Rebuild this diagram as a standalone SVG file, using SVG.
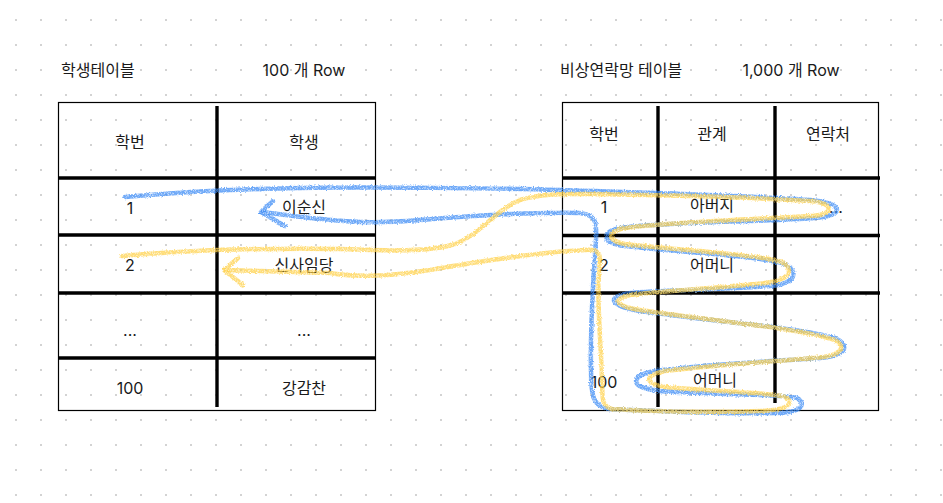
<svg xmlns="http://www.w3.org/2000/svg" width="943" height="503" viewBox="0 0 943 503">
<style>
text{font-family:Inter,"Noto Sans CJK KR","Noto Sans",sans-serif;font-size:16px;fill:#1a1a1a;dominant-baseline:central;text-anchor:middle}
text.l{text-anchor:start}
.frame{fill:none;stroke:#000;stroke-width:1.2}
.thick{stroke:#000;stroke-width:3.4;fill:none}
.blue{fill:none;stroke:#3d8cf5;stroke-width:4.5;stroke-linecap:round;stroke-linejoin:round;opacity:.75}
.yellow{fill:none;stroke:#ffd24d;stroke-width:4.5;stroke-linecap:round;stroke-linejoin:round;opacity:.75}
</style>
<defs>
<pattern id="dots" x="0" y="0" width="25" height="25" patternUnits="userSpaceOnUse">
<circle cx="16" cy="20" r="1" fill="#c4c4c4"/>
</pattern>
<filter id="crayon" x="-5%" y="-10%" width="110%" height="120%">
<feTurbulence type="fractalNoise" baseFrequency="0.9" numOctaves="2" seed="3" result="n"/>
<feDisplacementMap in="SourceGraphic" in2="n" scale="3" xChannelSelector="R" yChannelSelector="G" result="d"/>
<feTurbulence type="fractalNoise" baseFrequency="1.6" numOctaves="1" seed="7" result="g"/>
<feColorMatrix in="g" type="matrix" values="0 0 0 0 0  0 0 0 0 0  0 0 0 0 0  0 0 0 -2.2 2.0" result="ga"/>
<feComposite in="d" in2="ga" operator="in"/>
</filter>
</defs>
<rect width="943" height="503" fill="#fff"/>
<rect width="943" height="503" fill="url(#dots)"/>

<g id="titles">
<text class="l" x="61" y="70">학생테이블</text>
<text x="304" y="70">100 개 Row</text>
<text class="l" x="560" y="70">비상연락망 테이블</text>
<text x="791" y="70">1,000 개 Row</text>
</g>

<g id="student-table">
<rect class="frame" x="58.5" y="102.5" width="317" height="308"/>
<line class="thick" x1="217" y1="106" x2="217" y2="407"/>
<line class="thick" x1="58" y1="178" x2="376" y2="178"/>
<line class="thick" x1="58" y1="235" x2="376" y2="235"/>
<line class="thick" x1="58" y1="293" x2="376" y2="293"/>
<line class="thick" x1="58" y1="358" x2="376" y2="358"/>
<text x="130" y="142">학번</text>
<text x="304" y="142">학생</text>
<text x="130" y="208">1</text>
<text x="304" y="207">이순신</text>
<text x="130" y="265">2</text>
<text x="304" y="265">신사임당</text>
<text x="130" y="330">...</text>
<text x="304" y="330">...</text>
<text x="130" y="388">100</text>
<text x="304" y="388">강감찬</text>
</g>

<g id="contact-table">
<rect class="frame" x="562.5" y="102.5" width="316" height="308"/>
<line class="thick" x1="658" y1="106" x2="658" y2="407"/>
<line class="thick" x1="775" y1="106" x2="775" y2="403"/>
<line class="thick" x1="562" y1="178" x2="880" y2="178"/>
<line class="thick" x1="562" y1="235.5" x2="880" y2="235.5"/>
<line class="thick" x1="562" y1="293" x2="880" y2="293"/>
<text x="604" y="134">학번</text>
<text x="712" y="134">관계</text>
<text x="828" y="134">연락처</text>
<text x="604" y="207">1</text>
<text x="712" y="205">아버지</text>
<text x="836" y="207">...</text>
<text x="604" y="265">2</text>
<text x="712" y="265">어머니</text>
<text x="604" y="382">100</text>
<text x="715" y="380">어머니</text>
</g>

<g id="connectors" filter="url(#crayon)">
<path class="blue" d="M125,197 C180,192 230,189 300,188 S500,188 560,190 S760,196 810,200 C845,203 845,216 815,218 C760,222 660,222 620,228 C600,232 602,243 625,246 C690,253 760,256 785,264 C800,272 795,284 770,286 C720,290 660,290 630,293 C605,297 610,306 640,311 C720,322 800,328 835,338 C852,346 845,356 820,358 C760,362 680,366 650,372 C630,377 630,388 660,391 C720,395 780,394 797,398 C808,405 800,413 775,413 C720,414 650,411 610,409 C592,407 591,395 591,370 C590,320 594,270 596,240 C597,222 596,215 580,213 C540,212 470,216 420,220 S350,222 310,218 L262,212"/>
<path class="blue" d="M273,201 L261,212 L285,226"/>
<path class="yellow" d="M122,256 C180,251 230,248 340,249 C390,251 430,252 455,244 C480,235 495,210 520,200 C540,194 560,194 580,194 C680,195 760,198 810,201 C835,203 835,215 810,216 C760,219 670,222 625,228 C605,232 608,241 625,244 C700,252 760,255 782,262 C795,270 790,280 765,283 C720,288 660,291 630,295 C612,299 615,306 640,310 C720,322 800,328 835,340 C848,348 840,356 815,358 C760,362 690,368 665,371 C645,375 643,383 665,387 C720,392 770,392 785,397 C795,402 790,410 760,411 C700,413 640,411 612,409 C600,406 603,395 602,380 C601,340 596,300 600,260 C600,252 596,249 585,250 C540,252 470,263 430,270 C390,276 360,278 330,273 L225,270"/>
<path class="yellow" d="M238,258 L224,270 L243,285"/>
</g>
</svg>
